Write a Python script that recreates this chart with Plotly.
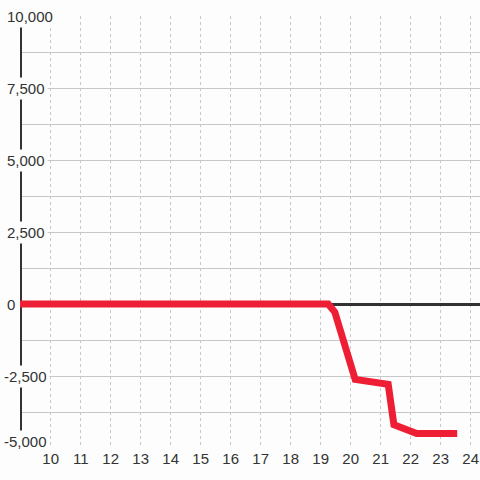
import plotly.graph_objects as go

# data
x_vals = [8.89, 19.25, 19.47, 20.15, 21.25, 21.44, 22.2, 23.55]
y_vals = [0, 0, -280, -2620, -2790, -4190, -4500, -4500]

y_label_vals = [10000, 7500, 5000, 2500, 0, -2500, -5000]
x_tick_vals = list(range(10, 25))

BG = "#fcfdfc"
TEXT = "#333333"
FONT = "Liberation Sans, Arial, sans-serif"

X_RANGE = [8.977, 24.31]
Y_RANGE = [-5000, 10000]

fig = go.Figure()

fig.add_trace(go.Scatter(
    x=x_vals,
    y=y_vals,
    mode="lines",
    line=dict(color="#ee1f35", width=7),
    cliponaxis=False,
    hoverinfo="skip",
    showlegend=False
))

# dark left axis bar, drawn under the data
fig.add_shape(
    type="line",
    xref="x", yref="y",
    x0=X_RANGE[0], x1=X_RANGE[0],
    y0=Y_RANGE[0], y1=Y_RANGE[1],
    line=dict(color="#333333", width=4),
    layer="between"
)

# y labels sit on top of the plot with a background box
for v in y_label_vals:
    fig.add_annotation(
        xref="paper", yref="y",
        x=-20 / 460, y=v,
        xanchor="left", yanchor="middle",
        xshift=1 if v < 0 else 4,
        yshift=7 if v == Y_RANGE[0] else 0,
        text=f"{v:,}",
        showarrow=False,
        font=dict(family=FONT, size=15, color=TEXT),
        bgcolor=BG,
        borderpad=2
    )

fig.update_xaxes(
    range=X_RANGE,
    tickmode="array",
    tickvals=x_tick_vals,
    ticktext=[str(t) for t in x_tick_vals],
    showgrid=True,
    gridcolor="#c8c8c8",
    gridwidth=1,
    griddash="dot",
    zeroline=False,
    showline=False,
    ticks="",
    automargin=False,
    tickfont=dict(family=FONT, size=15, color=TEXT)
)

fig.update_yaxes(
    range=Y_RANGE,
    dtick=1250,
    tick0=0,
    showticklabels=False,
    showgrid=True,
    gridcolor="#c8c8c8",
    gridwidth=1,
    zeroline=True,
    zerolinecolor="#333333",
    zerolinewidth=3,
    showline=False,
    automargin=False,
    ticks=""
)

fig.update_layout(
    width=480,
    height=480,
    margin=dict(l=20, r=0, t=16, b=32, autoexpand=False),
    paper_bgcolor=BG,
    plot_bgcolor=BG,
    showlegend=False
)

# the page body has a default 8px margin; drop it so the chart sits at 0,0
fig.write_html(
    "out.html",
    config={"displayModeBar": False},
    post_script="document.body.style.margin='0px';"
)
